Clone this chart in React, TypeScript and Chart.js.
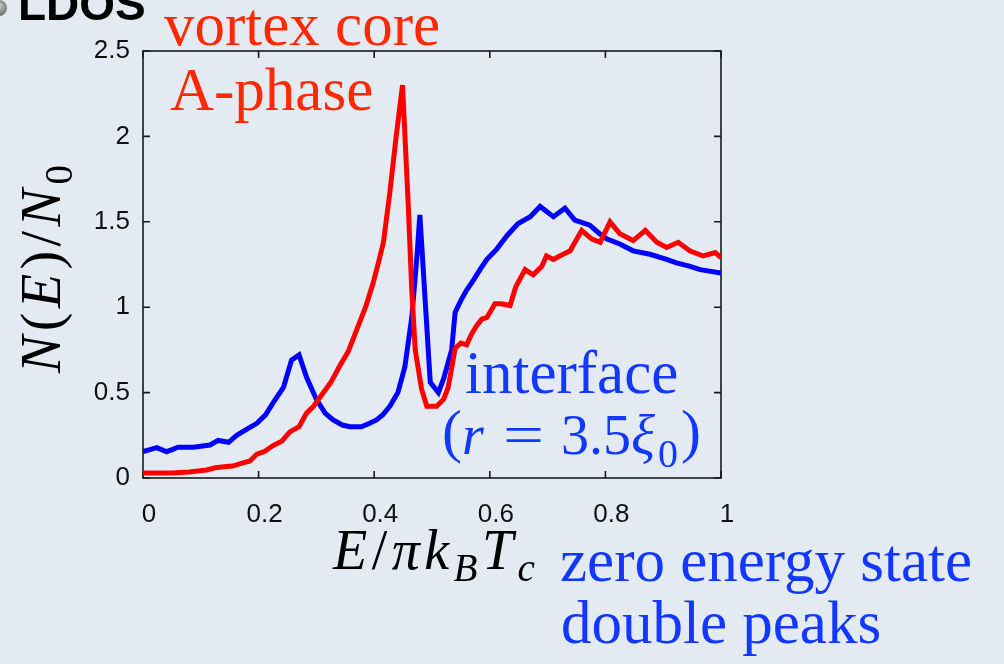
import React, { useEffect, useRef } from 'react';
import { Chart, registerables } from 'chart.js';

Chart.register(...registerables);

// Vortex-core (A-phase) local density of states
const RED_E = [
  0, 0.05, 0.08, 0.11, 0.125, 0.14, 0.155, 0.17, 0.185, 0.197, 0.21, 0.225, 0.24, 0.254,
  0.27, 0.283, 0.295, 0.312, 0.325, 0.341, 0.355, 0.37, 0.385, 0.398, 0.408, 0.416, 0.427,
  0.438, 0.449, 0.459, 0.465, 0.471, 0.482, 0.491, 0.508, 0.52, 0.528, 0.54, 0.55, 0.56,
  0.568, 0.577, 0.586, 0.595, 0.609, 0.62, 0.635, 0.645, 0.661, 0.675, 0.69, 0.698, 0.71,
  0.721, 0.739, 0.759, 0.776, 0.791, 0.808, 0.825, 0.848, 0.869, 0.889, 0.906, 0.926, 0.946,
  0.969, 0.99, 1.0,
];
const RED_N = [
  0.03, 0.03, 0.035, 0.047, 0.06, 0.066, 0.07, 0.086, 0.1, 0.14, 0.155, 0.19, 0.215, 0.27,
  0.3, 0.38, 0.42, 0.5, 0.56, 0.66, 0.74, 0.87, 1.0, 1.14, 1.27, 1.38, 1.67,
  2.0, 2.3, 1.59, 1.1, 0.75, 0.52, 0.42, 0.42, 0.46, 0.53, 0.76, 0.79, 0.78,
  0.84, 0.89, 0.93, 0.94, 1.02, 1.02, 1.01, 1.12, 1.22, 1.19, 1.24, 1.3, 1.28,
  1.3, 1.33, 1.45, 1.4, 1.38, 1.5, 1.43, 1.39, 1.45, 1.38, 1.35, 1.38, 1.33,
  1.3, 1.32, 1.29,
];

// Interface LDOS at r = 3.5 xi0
const BLUE_E = [
  0, 0.024, 0.041, 0.061, 0.087, 0.116, 0.13, 0.148, 0.162, 0.182, 0.197, 0.212, 0.225,
  0.243, 0.257, 0.27, 0.283, 0.3, 0.315, 0.329, 0.345, 0.358, 0.378, 0.392, 0.404, 0.415,
  0.427, 0.441, 0.453, 0.465, 0.474, 0.479, 0.497, 0.511, 0.52, 0.534, 0.54, 0.55, 0.56,
  0.572, 0.583, 0.595, 0.612, 0.63, 0.649, 0.67, 0.687, 0.71, 0.73, 0.747, 0.773, 0.79,
  0.802, 0.825, 0.848, 0.877, 0.906, 0.923, 0.945, 0.964, 1.0,
];
const BLUE_N = [
  0.154, 0.178, 0.154, 0.18, 0.18, 0.193, 0.22, 0.209, 0.25, 0.29, 0.32, 0.37, 0.44,
  0.53, 0.69, 0.72, 0.59, 0.46, 0.38, 0.34, 0.31, 0.3, 0.3, 0.32, 0.34, 0.37,
  0.42, 0.5, 0.65, 0.94, 1.3, 1.54, 0.56, 0.5, 0.58, 0.75, 0.97, 1.04, 1.1,
  1.16, 1.22, 1.28, 1.34, 1.42, 1.49, 1.53, 1.59, 1.53, 1.58, 1.51, 1.48, 1.43,
  1.4, 1.37, 1.33, 1.31, 1.28, 1.26, 1.24, 1.22, 1.2,
];

const X_TICKS = [0, 0.2, 0.4, 0.6, 0.8, 1];
const X_TICK_LABELS = ['0', '0.2', '0.4', '0.6', '0.8', '1'];
const Y_TICKS = [0, 0.5, 1, 1.5, 2, 2.5];
const Y_TICK_LABELS = ['0', '0.5', '1', '1.5', '2', '2.5'];

const CURVE_RED = '#ff0000';
const CURVE_BLUE = '#0000ff';
const TEXT_RED = '#ff2800';
const TEXT_BLUE = '#1238ff';
const SERIF = '"Liberation Serif", "Times New Roman", serif';

type Run = { t: string; it?: boolean; sub?: boolean; size?: number };

// Lays out a run of math-like text pieces, spreading them to a target width.
function drawRuns(
  ctx: CanvasRenderingContext2D,
  runs: Run[],
  x: number,
  y: number,
  size: number,
  color: string,
  target?: number,
) {
  const fontOf = (r: Run) => {
    const s = r.size ?? (r.sub ? size * 0.7 : size);
    return `${r.it ? 'italic ' : ''}${s}px ${SERIF}`;
  };
  const widths = runs.map((r) => {
    ctx.font = fontOf(r);
    return ctx.measureText(r.t).width;
  });
  const natural = widths.reduce((a, b) => a + b, 0);
  const gap = target && runs.length > 1 ? (target - natural) / (runs.length - 1) : 0;
  let cx = x;
  ctx.fillStyle = color;
  runs.forEach((r, i) => {
    ctx.font = fontOf(r);
    ctx.fillText(r.t, cx, r.sub ? y + size * 0.22 : y);
    cx += widths[i] + gap;
  });
}

const framePlugin = {
  id: 'frameTicks',
  beforeDatasetsDraw(chart: any) {
    const { ctx, chartArea: a, scales } = chart;
    const xs = scales.x;
    const ys = scales.y;
    ctx.save();
    ctx.strokeStyle = '#1a1a1a';
    ctx.lineWidth = 1.6;
    ctx.strokeRect(a.left, a.top, a.right - a.left, a.bottom - a.top);
    const len = 7;
    ctx.beginPath();
    X_TICKS.forEach((v) => {
      const px = xs.getPixelForValue(v);
      ctx.moveTo(px, a.bottom);
      ctx.lineTo(px, a.bottom - len);
      ctx.moveTo(px, a.top);
      ctx.lineTo(px, a.top + len);
    });
    Y_TICKS.forEach((v) => {
      const py = ys.getPixelForValue(v);
      ctx.moveTo(a.left, py);
      ctx.lineTo(a.left + len, py);
      ctx.moveTo(a.right, py);
      ctx.lineTo(a.right - len, py);
    });
    ctx.stroke();
    ctx.restore();
  },
};

const textPlugin = {
  id: 'annotations',
  afterDraw(chart: any) {
    const ctx: CanvasRenderingContext2D = chart.ctx;
    ctx.save();
    ctx.textBaseline = 'alphabetic';
    ctx.textAlign = 'left';

    // slide bullet and heading
    const g = ctx.createRadialGradient(-1, 5, 1, 0, 8, 10);
    g.addColorStop(0, '#c8c8c8');
    g.addColorStop(1, '#5a5a5a');
    ctx.fillStyle = g;
    ctx.beginPath();
    ctx.arc(-1, 8, 8, 0, Math.PI * 2);
    ctx.fill();
    ctx.fillStyle = '#000';
    ctx.font = `bold 46px "Liberation Sans", Arial, sans-serif`;
    ctx.fillText('LDOS', 18, 20);

    ctx.font = `61px ${SERIF}`;
    ctx.fillStyle = TEXT_RED;
    ctx.fillText('vortex core', 164, 45);
    ctx.fillText('A-phase', 170, 110);

    ctx.fillStyle = TEXT_BLUE;
    ctx.fillText('interface', 465, 393);
    ctx.fillText('zero energy state', 560, 581);
    ctx.fillText('double peaks', 561, 643);

    // (r = 3.5 xi_0)
    ctx.font = `60px ${SERIF}`;
    ctx.fillText('(', 442, 451);
    ctx.font = `italic 56px ${SERIF}`;
    ctx.fillText('r', 462, 454);
    ctx.save();
    ctx.translate(503, 454);
    ctx.scale(1.3, 1);
    ctx.font = `56px ${SERIF}`;
    ctx.fillText('=', 0, 0);
    ctx.restore();
    ctx.font = `56px ${SERIF}`;
    ctx.fillText('3.5', 561, 454);
    ctx.font = `italic 56px ${SERIF}`;
    ctx.fillText('\u03BE', 631, 454);
    ctx.font = `40px ${SERIF}`;
    ctx.fillText('0', 658, 467);
    ctx.font = `60px ${SERIF}`;
    ctx.fillText(')', 681, 451);

    // x-axis title
    drawRuns(
      ctx,
      [
        { t: 'E', it: true },
        { t: '/' },
        { t: '\u03C0', it: true },
        { t: 'k', it: true },
        { t: 'B', it: true, sub: true },
        { t: 'T', it: true },
        { t: 'c', it: true, sub: true },
      ],
      333,
      569,
      56,
      '#000',
      202,
    );

    // y-axis title, reading upwards
    ctx.translate(60, 373);
    ctx.rotate(-Math.PI / 2);
    drawRuns(
      ctx,
      [
        { t: 'N', it: true },
        { t: '(' },
        { t: 'E', it: true },
        { t: ')' },
        { t: '/' },
        { t: 'N', it: true },
        { t: '0', sub: true },
      ],
      0,
      0,
      56,
      '#000',
      208,
    );
    ctx.restore();
  },
};

export default function App() {
  const canvasRef = useRef<HTMLCanvasElement>(null);

  useEffect(() => {
    const canvas = canvasRef.current;
    if (!canvas) return;
    const tickFont = { family: '"Liberation Sans", Arial, sans-serif', size: 26 };
    const chart = new Chart(canvas, {
      type: 'line',
      data: {
        datasets: [
          {
            label: 'vortex core A-phase',
            data: RED_E.map((e, i) => ({ x: e, y: RED_N[i] })),
            borderColor: CURVE_RED,
            borderWidth: 5,
            pointRadius: 0,
            tension: 0,
            fill: false,
          },
          {
            label: 'interface',
            data: BLUE_E.map((e, i) => ({ x: e, y: BLUE_N[i] })),
            borderColor: CURVE_BLUE,
            borderWidth: 5,
            pointRadius: 0,
            tension: 0,
            fill: false,
          },
        ],
      },
      options: {
        responsive: false,
        animation: false,
        devicePixelRatio: 1,
        layout: { padding: { left: 0, top: 51, right: 283, bottom: 126 } },
        plugins: { legend: { display: false }, tooltip: { enabled: false } },
        scales: {
          x: {
            type: 'linear',
            min: 0,
            max: 1,
            afterBuildTicks: (s: any) => {
              s.ticks = X_TICKS.map((v) => ({ value: v }));
            },
            afterFit: (s: any) => {
              s.height = 60;
            },
            grid: { display: false, drawTicks: false },
            border: { display: false },
            ticks: {
              autoSkip: false,
              maxRotation: 0,
              padding: 21,
              labelOffset: 6,
              color: '#111',
              font: tickFont,
              callback: (_v: any, i: number) => X_TICK_LABELS[i],
            },
          },
          y: {
            type: 'linear',
            min: 0,
            max: 2.5,
            afterBuildTicks: (s: any) => {
              s.ticks = Y_TICKS.map((v) => ({ value: v }));
            },
            afterFit: (s: any) => {
              s.width = 143;
            },
            grid: { display: false, drawTicks: false },
            border: { display: false },
            ticks: {
              autoSkip: false,
              padding: 13,
              color: '#111',
              font: tickFont,
              callback: (_v: any, i: number) => Y_TICK_LABELS[i],
            },
          },
        },
      },
      plugins: [framePlugin, textPlugin],
    });
    return () => chart.destroy();
  }, []);

  return (
    <div
      style={{
        position: 'fixed',
        left: 0,
        top: 0,
        width: 1004,
        height: 664,
        background: '#e4eaf2',
        overflow: 'hidden',
      }}
    >
      <canvas ref={canvasRef} width={1004} height={664} style={{ display: 'block' }} />
    </div>
  );
}
